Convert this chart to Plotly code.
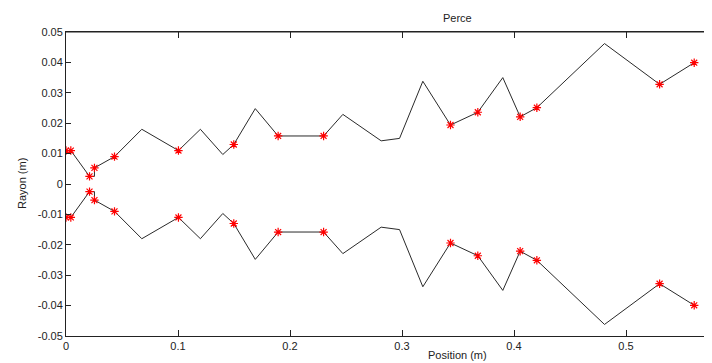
import plotly.graph_objects as go

# Bore profile (upper radius; lower profile is the mirror image)
line_x = [0, 0.0043, 0.021, 0.0254, 0.0254, 0.0433, 0.0677, 0.1004, 0.120, 0.140,
          0.1498, 0.169, 0.1894, 0.230, 0.2472, 0.2814, 0.2978, 0.3186, 0.3433,
          0.3677, 0.390, 0.4055, 0.4204, 0.4808, 0.530, 0.5609]
line_r = [0.011, 0.011, 0.0025, 0.0025, 0.0053, 0.009, 0.018, 0.011, 0.018, 0.0097,
          0.013, 0.0248, 0.0158, 0.0158, 0.0229, 0.0142, 0.015, 0.0338, 0.0194,
          0.0236, 0.035, 0.0221, 0.0251, 0.0462, 0.0328, 0.0399]

# Measurement points (red asterisks)
mark_x = [0, 0.0043, 0.021, 0.0254, 0.0433, 0.1004, 0.1498, 0.1894, 0.230,
          0.3433, 0.3677, 0.4055, 0.4204, 0.530, 0.5609]
mark_r = [0.011, 0.011, 0.0025, 0.0053, 0.009, 0.011, 0.013, 0.0158, 0.0158,
          0.0194, 0.0236, 0.0221, 0.0251, 0.0328, 0.0399]

x_ticks = [0, 0.1, 0.2, 0.3, 0.4, 0.5]
x_tick_labels = ["0", "0.1", "0.2", "0.3", "0.4", "0.5"]
y_ticks = [0.05, 0.04, 0.03, 0.02, 0.01, 0, -0.01, -0.02, -0.03, -0.04, -0.05]
y_tick_labels = ["0.05", "0.04", "0.03", "0.02", "0.01", "0", "-0.01", "-0.02",
                 "-0.03", "-0.04", "-0.05"]

OFF = 8  # default page body margin
W, H = 712 - OFF, 363 - OFF
ML, MT = 66 - OFF, 32 - OFF
MB = H - (336 - OFF)
plot_w = W - ML
plot_h = H - MT - MB
px_per_unit = 1120.0
x_max = plot_w / px_per_unit

line_col = "#2a2a2a"
mk = dict(symbol="asterisk-open", size=7, color="red", line=dict(color="red", width=1.2))

fig = go.Figure()
fig.add_trace(go.Scatter(x=line_x, y=line_r, mode="lines",
                         line=dict(color=line_col, width=1), hoverinfo="skip"))
fig.add_trace(go.Scatter(x=line_x, y=[-r for r in line_r], mode="lines",
                         line=dict(color=line_col, width=1), hoverinfo="skip"))
fig.add_trace(go.Scatter(x=mark_x, y=mark_r, mode="markers", marker=mk))
fig.add_trace(go.Scatter(x=mark_x, y=[-r for r in mark_r], mode="markers", marker=mk))

font = dict(family="Liberation Sans, Arial, sans-serif", size=11, color="#222")

fig.update_layout(
    width=W, height=H,
    margin=dict(l=ML, r=0, t=MT, b=MB, pad=0, autoexpand=False),
    paper_bgcolor="white", plot_bgcolor="white",
    showlegend=False,
    font=font,
    xaxis=dict(range=[0, x_max], tickvals=x_ticks, ticktext=x_tick_labels,
               ticks="inside", ticklen=6, tickcolor="#222", showline=True,
               linecolor="#222", linewidth=1, mirror="ticks", showgrid=False,
               zeroline=False, tickfont=font, automargin=False),
    yaxis=dict(range=[-0.05, 0.05], tickvals=y_ticks, ticktext=y_tick_labels,
               ticks="inside", ticklen=5, tickcolor="#222", showline=True,
               linecolor="#222", linewidth=1, mirror=False, showgrid=False,
               zeroline=False, tickfont=font, automargin=False),
    annotations=[
        dict(text="Perce", xref="paper", yref="paper", x=(457 - 66) / plot_w,
             y=1 + 14 / plot_h, showarrow=False, xanchor="center",
             yanchor="middle", font=font),
        dict(text="Position (m)", xref="paper", yref="paper", x=(457 - 66) / plot_w,
             y=-(19 / plot_h), showarrow=False, xanchor="center",
             yanchor="middle", font=font),
        dict(text="Rayon (m)", xref="paper", yref="paper", x=(22 - 66) / plot_w,
             y=0.5, showarrow=False, textangle=-90, xanchor="center",
             yanchor="middle", font=font),
    ],
)
# top axis line (box)
fig.add_shape(type="line", xref="paper", yref="paper", x0=0, x1=1, y0=1, y1=1,
              line=dict(color="#222", width=1))

fig.write_html("out.html")
